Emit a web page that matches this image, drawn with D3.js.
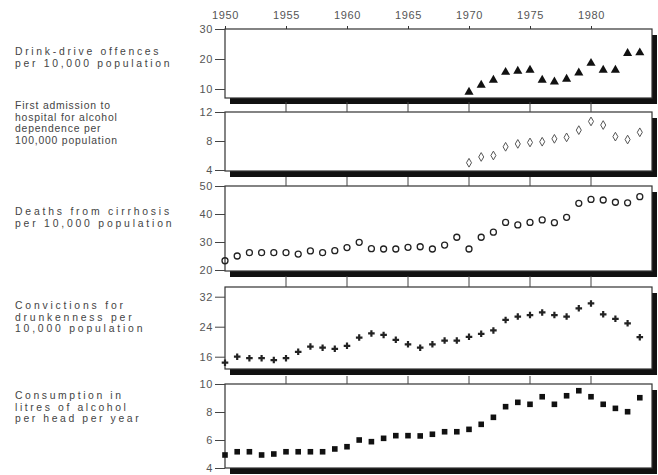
<!DOCTYPE html>
<html>
<head>
<meta charset="utf-8">
<script src="https://cdn.jsdelivr.net/npm/d3@7"></script>
<style>
  body { margin: 0; background: #fff; }
  svg { display: block; }
  .lbl { font-family: "Liberation Sans", Arial, sans-serif; font-size: 10.4px; fill: #444; }
  .tick text { font-family: "Liberation Sans", Arial, sans-serif; font-size: 11px; fill: #555; letter-spacing: 0.6px; }
</style>
</head>
<body>
<svg id="chart" width="658" height="475"></svg>
<script>
// years
var yearsAll = [1950, 1951, 1952, 1953, 1954, 1955, 1956, 1957, 1958, 1959,
                1960, 1961, 1962, 1963, 1964, 1965, 1966, 1967, 1968, 1969,
                1970, 1971, 1972, 1973, 1974, 1975, 1976, 1977, 1978, 1979,
                1980, 1981, 1982, 1983, 1984];
var yearsLate = [1970, 1971, 1972, 1973, 1974, 1975, 1976, 1977, 1978, 1979,
                 1980, 1981, 1982, 1983, 1984];
var yearTicks = [1950, 1955, 1960, 1965, 1970, 1975, 1980];

// series
var drinkDrive = [9.0, 11.3, 13.0, 15.6, 16.0, 16.3, 13.0, 12.4, 13.3, 15.4, 18.6, 16.3, 16.3, 21.9, 22.1];
var admissions = [5.0, 5.8, 6.0, 7.2, 7.6, 7.8, 7.9, 8.3, 8.5, 9.5, 10.7, 10.2, 8.6, 8.2, 9.2];
var cirrhosis = [23.3, 25.0, 26.2, 26.2, 26.2, 26.2, 25.7, 26.8, 26.2, 26.9,
                 28.0, 29.9, 27.6, 27.5, 27.5, 28.1, 28.3, 27.5, 28.9, 31.7,
                 27.5, 31.7, 33.5, 37.0, 36.1, 37.0, 37.9, 36.9, 38.8, 43.8,
                 45.2, 45.0, 44.2, 44.0, 46.2];
var convictions = [14.4, 16.0, 15.6, 15.6, 15.1, 15.6, 17.3, 18.7, 18.4, 18.1,
                   18.9, 21.1, 22.2, 21.8, 20.5, 19.3, 18.4, 19.3, 20.3, 20.3,
                   21.3, 22.1, 23.0, 25.8, 26.7, 27.1, 27.8, 27.1, 26.7, 28.9,
                   30.2, 27.3, 26.1, 24.9, 21.2];
var consumption = [4.93, 5.16, 5.16, 4.93, 5.0, 5.16, 5.16, 5.16, 5.16, 5.36,
                   5.52, 6.0, 5.88, 6.12, 6.31, 6.31, 6.29, 6.41, 6.59, 6.59,
                   6.76, 7.12, 7.62, 8.38, 8.69, 8.55, 9.09, 8.55, 9.16, 9.52,
                   9.09, 8.55, 8.26, 8.02, 9.02];

// panel labels and y ticks
var labels = [
  ["Drink-drive offences", "per 10,000 population"],
  ["First admission to", "hospital for alcohol", "dependence per", "100,000 population"],
  ["Deaths from cirrhosis", "per 10,000 population"],
  ["Convictions for", "drunkenness per", "10,000 population"],
  ["Consumption in", "litres of alcohol", "per head per year"]
];
var yTicks = [[10, 20, 30], [4, 8, 12], [20, 30, 40, 50], [16, 24, 32], [4, 6, 8, 10]];

var svg = d3.select("#chart");
svg.append("rect").attr("width", 658).attr("height", 475).attr("fill", "#fff");

var left = 225, right = 652;
var x = d3.scaleLinear().domain([1950, 1985]).range([left, right]);

// layout of each panel: box top/bottom, y domain and the pixel range for it
var panels = [
  { top: 29,  bottom: 98,  dom: [10, 30], rng: [89, 29],   years: yearsLate, vals: drinkDrive,  mark: "tri",  lblY: 55,  gap: 0,  ls: 2.7 },
  { top: 112, bottom: 171, dom: [4, 12],  rng: [170, 112], years: yearsLate, vals: admissions,  mark: "dia",  lblY: 109, gap: 10, ls: 0.8 },
  { top: 186, bottom: 271, dom: [20, 50], rng: [270, 186], years: yearsAll,  vals: cirrhosis,   mark: "circ", lblY: 215, gap: 9,  ls: 2.8 },
  { top: 287, bottom: 369, dom: [16, 32], rng: [356.7, 296.7], years: yearsAll, vals: convictions, mark: "plus", lblY: 309, gap: 11, ls: 2.8 },
  { top: 384, bottom: 468, dom: [4, 10],  rng: [468, 384], years: yearsAll,  vals: consumption, mark: "sq",   lblY: 399, gap: 8,  ls: 2.6 }
];

// year axis on top
var xAxis = d3.axisTop(x).tickValues(yearTicks).tickFormat(d3.format("d")).tickSize(3).tickPadding(7);
var gx = svg.append("g").attr("transform", "translate(0,29)").call(xAxis);
gx.select(".domain").remove();
gx.selectAll("text").attr("font-family", "Liberation Sans, Arial, sans-serif")
  .attr("font-size", 11).attr("fill", "#444");
gx.selectAll("line").attr("stroke", "#333");

panels.forEach(function(p, i) {
  var y = d3.scaleLinear().domain(p.dom).range(p.rng);
  var g = svg.append("g");
  var w = right - left, h = p.bottom - p.top;

  // drop shadow then the box
  g.append("rect").attr("x", left + 5).attr("y", p.top + 6)
    .attr("width", w).attr("height", h).attr("fill", "#111");
  g.append("rect").attr("x", left).attr("y", p.top)
    .attr("width", w).attr("height", h)
    .attr("fill", "#fff").attr("stroke", "#333").attr("stroke-width", 1.2);

  // year ticks sticking up into the gap above the box
  if (p.gap > 0) {
    g.selectAll(".yt").data(yearTicks.slice(1)).enter().append("line")
      .attr("x1", function(d) { return x(d); }).attr("x2", function(d) { return x(d); })
      .attr("y1", p.top - p.gap).attr("y2", p.top)
      .attr("stroke", "#444").attr("stroke-width", 1);
  }

  // y axis
  var ya = svg.append("g").attr("transform", "translate(" + left + ",0)")
    .call(d3.axisLeft(y).tickValues(yTicks[i]).tickFormat(d3.format("d")).tickSize(10).tickPadding(2));
  ya.select(".domain").remove();
  ya.selectAll("line").attr("stroke", "#444");

  // markers
  var pts = p.years.map(function(yr, j) { return { yr: yr, v: p.vals[j] }; });
  var mg = svg.append("g");
  if (p.mark === "tri") {
    mg.selectAll("path").data(pts).enter().append("path")
      .attr("transform", function(d) { return "translate(" + x(d.yr) + "," + y(d.v) + ")"; })
      .attr("d", d3.symbol().type(d3.symbolTriangle).size(36))
      .attr("fill", "#111");
  } else if (p.mark === "dia") {
    mg.selectAll("path").data(pts).enter().append("path")
      .attr("transform", function(d) { return "translate(" + x(d.yr) + "," + y(d.v) + ")"; })
      .attr("d", d3.symbol().type(d3.symbolDiamond).size(22))
      .attr("fill", "none").attr("stroke", "#555").attr("stroke-width", 1);
  } else if (p.mark === "circ") {
    mg.selectAll("circle").data(pts).enter().append("circle")
      .attr("cx", function(d) { return x(d.yr); })
      .attr("cy", function(d) { return y(d.v); })
      .attr("r", 3)
      .attr("fill", "none").attr("stroke", "#222").attr("stroke-width", 1.3);
  } else if (p.mark === "plus") {
    mg.selectAll("path").data(pts).enter().append("path")
      .attr("transform", function(d) { return "translate(" + x(d.yr) + "," + y(d.v) + ")"; })
      .attr("d", d3.symbol().type(d3.symbolCross).size(24))
      .attr("fill", "#222");
  } else {
    mg.selectAll("rect").data(pts).enter().append("rect")
      .attr("x", function(d) { return x(d.yr) - 2.8; })
      .attr("y", function(d) { return y(d.v) - 2.8; })
      .attr("width", 5.6).attr("height", 5.6)
      .attr("fill", "#111");
  }

  // label on the left, one text per line
  labels[i].forEach(function(line, k) {
    svg.append("text").attr("class", "lbl")
      .attr("x", 15).attr("y", p.lblY + k * 11.7)
      .style("letter-spacing", p.ls + "px")
      .text(line);
  });
});
</script>
</body>
</html>
